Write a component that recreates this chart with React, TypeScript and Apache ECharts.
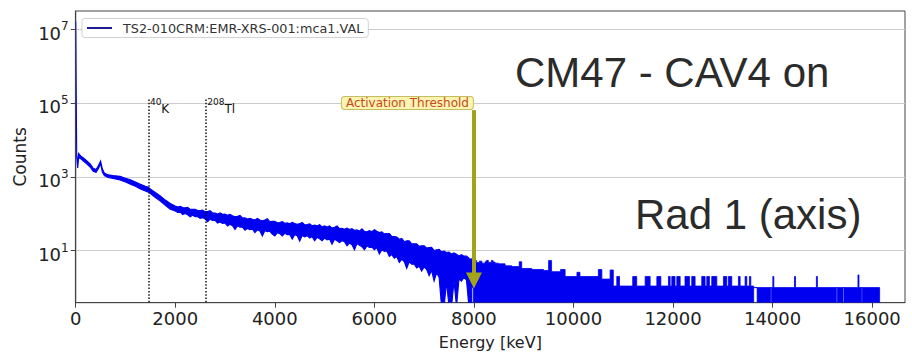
import { useEffect, useRef } from 'react';
import * as echarts from 'echarts';

// ---------------- data ----------------
const LEGEND_NAME = 'TS2-010CRM:EMR-XRS-001:mca1.VAL';

const X_MIN = 0;
const X_MAX = 16660;
const X_INTERVAL = 2000;
const Y_MIN = 0.39;
const Y_MAX = 3.1e7;
const yTickValues = [10, 1000, 100000, 10000000];

// Region A: low-energy part, envelope (max / min per bin) of the noisy spectrum (keV, counts)
const energyA = [
  0, 20, 40, 60, 100, 150, 220, 290, 350, 410, 455, 500, 535, 575, 650, 750, 890, 1000, 1100, 1200,
  1300, 1400, 1460, 1500, 1600, 1700, 1800, 1900,
  2000, 2050, 2100, 2150, 2200, 2250, 2300, 2350, 2400, 2450,
  2500, 2550, 2600, 2650, 2700, 2750, 2800, 2850, 2900, 2950,
  3000, 3050, 3100, 3150, 3200, 3250, 3300, 3350, 3400, 3450,
  3500, 3550, 3600, 3650, 3700, 3750, 3800, 3850, 3900, 3950,
  4000, 4050, 4100, 4150, 4200, 4250, 4300, 4350, 4400, 4450,
  4500, 4550, 4600, 4650, 4700, 4750, 4800, 4850, 4900, 4950,
  5000, 5050, 5100, 5150, 5200, 5250, 5300, 5350, 5400, 5450,
  5500, 5550, 5600, 5650, 5700, 5750, 5800, 5850, 5900, 5950,
  6000, 6050, 6100, 6150, 6200, 6250, 6300, 6350, 6400, 6450,
  6500, 6550, 6600, 6650, 6700, 6750, 6800, 6850, 6900, 6950,
  7000, 7050, 7100, 7150, 7200, 7250, 7300, 7350, 7400, 7450,
  7500, 7550, 7600, 7650, 7700, 7750, 7800, 7850, 7900,
];
const highA = [
  1.6e7, 4400, 2200, 4300, 3700, 3300, 2750, 2250, 1720, 1580, 2000, 2700, 1650, 1280, 1130, 1080, 1030, 910, 830, 730,
  630, 555, 525, 470, 380, 305, 235, 190,
  163, 153, 160, 147, 145, 150, 132, 132, 133, 122.5,
  122, 126, 114, 115, 121, 106, 105, 99, 105, 97,
  98, 91, 97, 88, 83.5, 86, 90, 77, 77.5, 72.5,
  75.5, 71, 68, 75, 67.5, 64.5, 67.5, 73.5, 61.5, 62,
  62.5, 57, 58, 61.5, 55.5, 56.5, 53.5, 58.5, 54.5, 52,
  54, 58, 50, 51, 53, 47.5, 49.5, 47, 51, 44,
  47, 44, 47, 41, 43, 46.5, 39.5, 40.5, 38, 41,
  37.5, 39.5, 35.5, 36.5, 34, 39, 33.5, 32.5, 35, 32.5,
  37, 33.5, 31, 32.5, 28.5, 29, 29, 24.5, 24, 23.5,
  20.5, 21.5, 17.5, 18.5, 18.5, 15.3, 15.3, 15.4, 13.1, 13.6,
  13.5, 11.8, 12.2, 12.4, 10.1, 10.5, 10.8, 9.3, 9.7, 8.9,
  9.2, 8.1, 8.7, 8.0, 7.2, 7.8, 7.1, 7.1, 6.3,
];
const lowA = [
  1.6e7, 3600, 1750, 3300, 3100, 2700, 2250, 1850, 1420, 1320, 1650, 2250, 1350, 1080, 960, 910, 820, 720, 630, 555,
  470, 415, 385, 350, 275, 220, 168, 132,
  118, 108.5, 111, 95.5, 102, 94, 83, 91.5, 83.5, 83,
  74.5, 78.5, 72, 61, 70.5, 65.5, 66, 56, 60, 54.5,
  56, 46.5, 52, 47.5, 37.5, 47, 43, 43.5, 36, 40,
  37, 38, 31, 36.5, 34, 25, 34.5, 32.5, 33.5, 28,
  25, 30.5, 29, 25, 29.5, 27, 27.5, 20.5, 27, 25.5,
  18, 25.8, 23.5, 25.5, 22, 24, 18.5, 23, 21, 18.5,
  22, 19.5, 20.5, 15, 20.5, 18.5, 16.5, 18.5, 17.5, 13.5,
  16, 14.5, 10.5, 15.5, 14, 12.8, 10.5, 13.5, 12.2, 12.5,
  10.6, 12, 8.1, 10.5, 9.5, 9.8, 7, 7.8, 6.2, 6.9,
  4.8, 5.8, 5.1, 3.3, 5.0, 4.3, 4.3, 3.4, 3.8, 2.8,
  3.6, 3.1, 2.1, 2.9, 1.5, 2.5, 1.9, 0, 0, 1.4,
  0, 0, 1.5, 0, 1.7, 1.5, 1.9, 1.6, 0,
];

// Region B: high-energy part (step levels starting at each energy, keV, counts)
const energyB = [
  7900, 7960, 7990, 8050, 8110, 8160, 8224, 8250, 8290, 8350,
  8385, 8425, 8490, 8626, 8760, 8910, 8960, 9160, 9400, 9500,
  9560, 9740, 9832, 10070, 10130, 10500, 10570, 10736, 10800, 10870,
  10925, 11190, 11270, 11440, 11540, 11675, 11755, 11908, 11942, 11975,
  12040, 12076, 12143, 12240, 12330, 12376, 12443, 12577, 12644, 12678,
  12731, 12778, 12879, 13013, 13080, 13113, 13180, 13314, 13348, 13448,
  13482, 13535, 13562, 13620, 13690, 13960, 13980, 14005, 14025, 14440,
  14460, 14880, 14900, 15280, 15300, 15415, 15435, 15715, 15735, 15785,
  15805, 16150,
];
const highB = [
  6.0, 5.4, 5.4, 4.8, 5.2, 4.6, 5.0, 5.4, 4.8, 5.4,
  4.9, 4.6, 4.4, 3.9, 3.7, 5.0, 3.3, 3.1, 2.9, 5.4,
  2.7, 3.1, 2.0, 2.6, 2.0, 3.1, 1.7, 3.0, 1.1, 2.0,
  1.1, 2.0, 1.1, 2.0, 1.1, 2.0, 1.1, 2.0, 1.1, 2.0,
  1.1, 2.0, 1.1, 2.0, 1.1, 2.0, 1.1, 2.0, 1.1, 2.0,
  1.1, 2.0, 1.1, 2.0, 1.1, 2.0, 1.1, 2.0, 1.1, 2.0,
  1.1, 2.0, 1.1, 1.0, 1.0, 1.0, 1.0, 2.0, 1.0, 2.0,
  1.0, 2.0, 1.0, 1.0, 1.0, 1.0, 1.0, 2.2, 1.0, 1.0,
  1.0, 1.0,
];
const lowB = [
  0, 1, 0, 0, 0, 0, 0, 0, 0, 0,
  0, 0, 0, 0, 0, 0, 0, 0, 0, 0,
  0, 0, 0, 0, 0, 0, 0, 0, 0, 0,
  0, 0, 0, 0, 0, 0, 0, 0, 0, 0,
  0, 0, 0, 0, 0, 0, 0, 0, 0, 0,
  0, 0, 0, 0, 0, 0, 0, 0, 0, 0,
  0, 0, 0, 1, 0, 1, 0, 0, 0, 0,
  0, 0, 0, 1, 0, 1, 0, 0, 0, 1,
  0, 0,
];

// Reference lines (keV) and their labels
const nuclideEnergies = [1461, 2614];
const nuclideMass = ['40', '208'];
const nuclideElement = ['K', 'Tl'];
const nuclideLineTop = 1.36e5;
const nuclideLineBottom = 0.4;

const thresholdEnergy = 8000;
const thresholdLabel = 'Activation Threshold';
const thresholdLabelCounts = 1e5;
const arrowStartCounts = 6.4e4;
const arrowEndCounts = 1.56;

const overlayLine1 = 'CM47 - CAV4 on';
const overlayLine2 = 'Rad 1 (axis)';

// ---------------- styles ----------------
const BLUE = '#0000f0';
const ARROW = '#a3a31a';
const MPL_FONT = 'DejaVu Sans';
const TXT = '#222222';
const FLOOR = 0.3; // zero counts are drawn below the axis floor (clipped)

function bandSeries(energies: number[], lows: number[], highs: number[], stepped: boolean) {
  const eff = (v: number) => (v > 0 ? v : FLOOR);
  return {
    type: 'custom',
    name: LEGEND_NAME,
    coordinateSystem: 'cartesian2d',
    silent: true,
    clip: true,
    color: BLUE,
    data: [[energies[0], highs[0]]],
    encode: { x: 0, y: 1 },
    renderItem: (params: any, api: any) => {
      if (params.dataIndex !== 0) return null;
      const upper: number[][] = [];
      const lower: number[][] = [];
      const n = energies.length;
      if (stepped) {
        for (let i = 0; i < n - 1; i++) {
          upper.push(api.coord([energies[i], highs[i]]));
          upper.push(api.coord([energies[i + 1], highs[i]]));
          lower.push(api.coord([energies[i], eff(lows[i])]));
          lower.push(api.coord([energies[i + 1], eff(lows[i])]));
        }
      } else {
        for (let i = 0; i < n; i++) {
          upper.push(api.coord([energies[i], highs[i]]));
          lower.push(api.coord([energies[i], eff(lows[i])]));
        }
      }
      const points = upper.concat(lower.reverse());
      const cs = params.coordSys;
      return {
        type: 'polygon',
        shape: { points },
        style: { fill: BLUE, stroke: BLUE, lineWidth: stepped ? 0.8 : 1.1 },
        clipPath: { type: 'rect', shape: { x: cs.x, y: cs.y, width: cs.width, height: cs.height } },
      };
    },
  };
}

function buildOption() {
  const markPointData: any[] = [];
  nuclideEnergies.forEach((e, i) => {
    markPointData.push({
      coord: [e, nuclideLineTop],
      label: {
        show: true,
        position: [2, 0],
        formatter: `{s|${nuclideMass[i]}}{m|${nuclideElement[i]}}`,
        rich: {
          s: { fontSize: 9, lineHeight: 10, verticalAlign: 'top', color: '#111', fontFamily: MPL_FONT },
          m: { fontSize: 12, lineHeight: 17.5, verticalAlign: 'bottom', color: '#111', fontFamily: MPL_FONT },
        },
      },
    });
  });
  markPointData.push({
    coord: [thresholdEnergy, thresholdLabelCounts],
    label: {
      show: true,
      position: 'left',
      distance: 0.5,
      formatter: thresholdLabel,
      fontSize: 12,
      lineHeight: 11,
      color: '#c84a1c',
      fontFamily: MPL_FONT,
      backgroundColor: '#fbf4b2',
      borderColor: '#c4bd5e',
      borderWidth: 1,
      borderRadius: 3,
      padding: [1, 4, 0, 4],
    },
  });

  const holderCommon: any = {
    type: 'line',
    data: [[X_MIN, Y_MAX]],
    symbol: 'none',
    showSymbol: false,
    silent: true,
    lineStyle: { opacity: 0, width: 0 },
    emphasis: { disabled: true },
  };

  const series: any[] = [
    bandSeries(energyA, lowA, highA, false),
    bandSeries(energyB, lowB, highB, true),
    {
      ...holderCommon,
      name: 'nuclide-marks',
      markLine: {
        silent: true,
        symbol: ['none', 'none'],
        label: { show: false },
        emphasis: { disabled: true },
        lineStyle: { color: '#111', width: 1.5, type: [1.5, 1.8] },
        data: nuclideEnergies.map((e) => [
          { coord: [e, nuclideLineBottom] },
          { coord: [e, nuclideLineTop] },
        ]),
      },
      markPoint: {
        silent: true,
        symbol: 'rect',
        symbolSize: 1,
        itemStyle: { color: 'rgba(0,0,0,0)' },
        emphasis: { disabled: true },
        data: markPointData,
      },
    },
    {
      ...holderCommon,
      name: 'threshold-arrow',
      markLine: {
        silent: true,
        symbol: ['none', 'triangle'],
        symbolSize: 16,
        label: { show: false },
        emphasis: { disabled: true },
        lineStyle: { color: ARROW, width: 4, type: 'solid' },
        itemStyle: { color: ARROW },
        data: [[
          { coord: [thresholdEnergy, arrowStartCounts] },
          { coord: [thresholdEnergy, arrowEndCounts] },
        ]],
      },
    },
  ];

  return {
    animation: false,
    backgroundColor: '#ffffff',
    textStyle: { fontFamily: MPL_FONT },
    grid: {
      left: 75.7,
      right: 7,
      top: 11,
      bottom: 51.3,
      containLabel: false,
      outerBoundsMode: 'none',
      show: true,
      borderColor: '#444444',
      borderWidth: 1,
      backgroundColor: 'rgba(0,0,0,0)',
    },
    legend: {
      show: true,
      left: 82,
      top: 18.5,
      orient: 'horizontal',
      selectedMode: false,
      data: [{ name: LEGEND_NAME, icon: 'rect' }],
      itemWidth: 25,
      itemHeight: 2,
      padding: [3, 5, 3, 5],
      borderColor: '#d2d2d2',
      borderWidth: 1,
      borderRadius: 3,
      backgroundColor: '#ffffff',
      itemStyle: { color: '#1c1c96', borderWidth: 0 },
      lineStyle: { width: 0 },
      textStyle: { fontSize: 12.8, color: '#333333', fontFamily: MPL_FONT, padding: [0, 0, 0, 6] },
    },
    xAxis: {
      type: 'value',
      min: X_MIN,
      max: X_MAX,
      interval: X_INTERVAL,
      name: 'Energy [keV]',
      nameLocation: 'middle',
      nameGap: 32,
      nameMoveOverlap: false,
      nameTextStyle: { fontSize: 16, color: TXT, fontFamily: MPL_FONT },
      axisLine: { show: true, onZero: false, lineStyle: { color: '#444444', width: 1.2 } },
      axisTick: { show: true, inside: false, length: 5, lineStyle: { color: '#444444', width: 1 } },
      axisLabel: {
        fontSize: 18,
        color: TXT,
        margin: 7,
        showMaxLabel: false,
        fontFamily: MPL_FONT,
        formatter: (v: number) => String(Math.round(v)),
      },
      splitLine: { show: false },
    },
    yAxis: {
      type: 'log',
      logBase: 10,
      min: Y_MIN,
      max: Y_MAX,
      name: 'Counts',
      nameLocation: 'middle',
      nameGap: 47,
      nameRotate: 90,
      nameMoveOverlap: false,
      nameTextStyle: { fontSize: 17, color: TXT, fontFamily: MPL_FONT },
      axisLine: { show: true, lineStyle: { color: '#444444', width: 1.2 } },
      axisTick: { show: true, length: 5, customValues: yTickValues, lineStyle: { color: '#444444', width: 1 } },
      axisLabel: {
        customValues: yTickValues,
        margin: 7,
        padding: [4, 0, 0, 0],
        formatter: (v: number) => `{b|10}{s|${Math.round(Math.log10(v))}}`,
        rich: {
          b: { fontSize: 18, lineHeight: 22, verticalAlign: 'bottom', color: TXT, fontFamily: MPL_FONT },
          s: { fontSize: 12, lineHeight: 14, verticalAlign: 'top', color: TXT, fontFamily: MPL_FONT },
        },
      },
      splitLine: { show: true, lineStyle: { color: '#cccccc', width: 1.2 } },
      minorTick: { show: false },
      minorSplitLine: { show: false },
    },
    series,
    graphic: [
      {
        type: 'text',
        left: 515,
        top: 51.2,
        silent: true,
        z: 100,
        style: { text: overlayLine1, fontSize: 42, fontFamily: 'Liberation Sans', fill: '#2b2b2b' },
      },
      {
        type: 'text',
        left: 635,
        top: 193.3,
        silent: true,
        z: 100,
        style: { text: overlayLine2, fontSize: 42, fontFamily: 'Liberation Sans', fill: '#2b2b2b' },
      },
    ],
  };
}

export default function App() {
  const ref = useRef<HTMLDivElement>(null);
  useEffect(() => {
    if (!ref.current) return;
    const chart = echarts.init(ref.current, null, { renderer: 'svg' });
    chart.setOption(buildOption() as any);
    return () => chart.dispose();
  }, []);
  return (
    <div
      ref={ref}
      style={{ position: 'fixed', left: 0, top: 0, width: 912, height: 354, background: '#ffffff' }}
    />
  );
}
